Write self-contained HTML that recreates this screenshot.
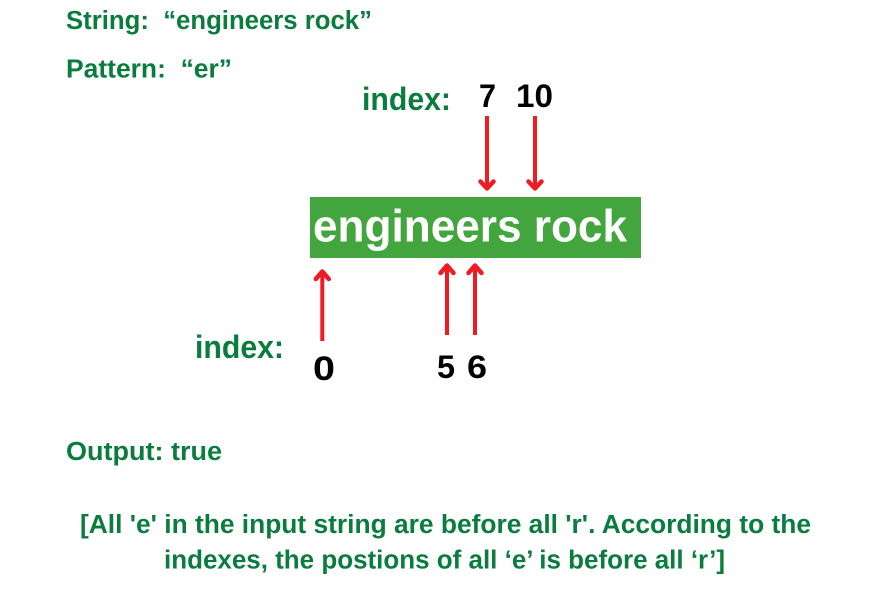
<!DOCTYPE html>
<html>
<head>
<meta charset="utf-8">
<style>
html,body{margin:0;padding:0;background:#fff;}
svg{display:block;}
text{font-family:"Liberation Sans",sans-serif;font-weight:bold;white-space:pre;}
.g{fill:#0a7d3e;}
.k{fill:#000;}
</style>
</head>
<body>
<svg width="871" height="592" viewBox="0 0 871 592" xmlns="http://www.w3.org/2000/svg">
<rect width="871" height="592" fill="#fff"/>
<text class="g" xml:space="preserve" x="66" y="29" font-size="25.5" textLength="306" lengthAdjust="spacingAndGlyphs">String:  “engineers rock”</text>
<text class="g" xml:space="preserve" x="66" y="77.5" font-size="25.5" textLength="166" lengthAdjust="spacingAndGlyphs">Pattern:  “er”</text>
<text class="g" x="362" y="110" font-size="32" textLength="89" lengthAdjust="spacingAndGlyphs">index:</text>
<text class="k" x="479" y="107" font-size="32" textLength="17" lengthAdjust="spacingAndGlyphs">7</text>
<text class="k" x="516" y="107" font-size="32" textLength="37" lengthAdjust="spacingAndGlyphs">10</text>
<rect x="310" y="197" width="331" height="61" fill="#43a53d"/>
<text x="313" y="241.5" font-size="45.5" fill="#fff" textLength="314" lengthAdjust="spacingAndGlyphs">engineers rock</text>
<g stroke="#ed1c24" fill="none">
<path d="M487 116V188" stroke-width="4"/>
<path d="M535 116V188" stroke-width="4"/>
<path d="M322.3 341V272" stroke-width="4"/>
<path d="M447 335V266" stroke-width="4"/>
<path d="M475 335V266" stroke-width="4"/>
<g stroke-width="4.5" stroke-linecap="round" stroke-linejoin="round">
<path d="M480.5 181.5L487 188.5L493.5 181.5"/>
<path d="M528.5 181.5L535 188.5L541.5 181.5"/>
<path d="M315.8 279L322.3 271.5L328.8 279"/>
<path d="M440.5 273L447 265.5L453.5 273"/>
<path d="M468.5 273L475 265.5L481.5 273"/>
</g>
</g>
<text class="g" x="195" y="358" font-size="32" textLength="89" lengthAdjust="spacingAndGlyphs">index:</text>
<text class="k" x="313" y="380" font-size="34" textLength="22" lengthAdjust="spacingAndGlyphs">0</text>
<text class="k" x="437" y="378" font-size="32" textLength="18" lengthAdjust="spacingAndGlyphs">5</text>
<text class="k" x="467" y="378" font-size="32" textLength="20" lengthAdjust="spacingAndGlyphs">6</text>
<text class="g" x="66" y="460" font-size="25.5" textLength="156" lengthAdjust="spacingAndGlyphs">Output: true</text>
<text class="g" x="80" y="533" font-size="25.5" textLength="731" lengthAdjust="spacingAndGlyphs">[All 'e' in the input string are before all 'r'. According to the</text>
<text class="g" x="164" y="568.5" font-size="25.5" textLength="561" lengthAdjust="spacingAndGlyphs">indexes, the postions of all ‘e’ is before all ‘r’]</text>
</svg>
</body>
</html>
